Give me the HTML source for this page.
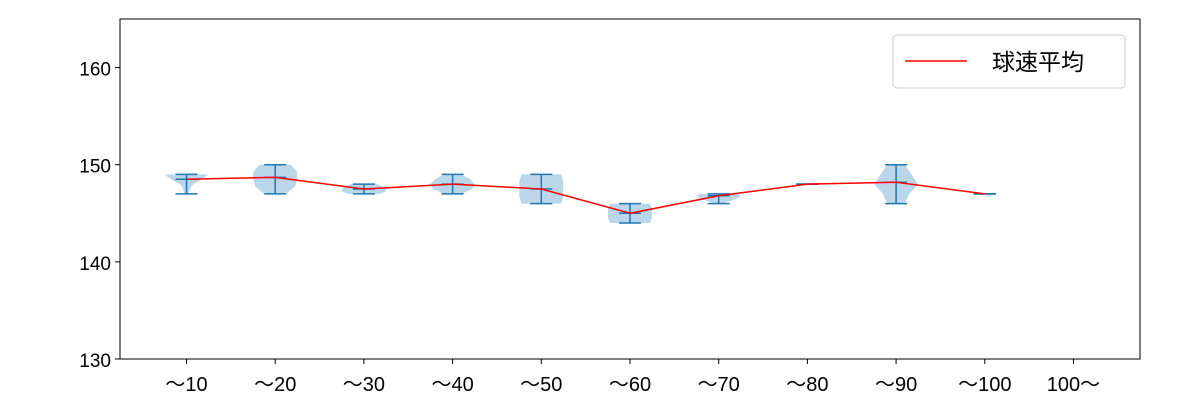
<!DOCTYPE html>
<html><head><meta charset="utf-8"><style>
body{margin:0;background:#fff;}
svg{display:block;font-family:"Liberation Sans","Noto Sans CJK JP",sans-serif;}
</style></head><body>
<svg id="c" width="1200" height="400"></svg>
<script>
const categories=["～10","～20","～30","～40","～50","～60","～70","～80","～90","～100","100～"];
const meanValues=[148.5,148.7,147.5,148,147.5,145,146.8,148,148.2,147,null];
const minValues=[147,147,147,147,146,144,146,148,146,147,null];
const maxValues=[149,150,148,149,149,146,147,148,150,147,null];
// half-width fraction profiles from min (first) to max (last)
const violinShapes=[[0.1,0.15,0.3,0.7,1],[0.5,0.9,1,1,0.7],[0.7,1,1,0.9,0.6],[0.4,0.9,1,0.8,0.4],[0.9,1,1,1,0.9],[0.9,1,1,1,0.9],[0.2,0.5,0.8,1,0.9],[0,0,0,0,0],[0.4,0.6,1,0.7,0.4],[0,0,0,0,0],null];
const yTicks=[130,140,150,160];
const L=120,R=1140,T=19,B=359,yMin=130,yMax=165;
const NS="http://www.w3.org/2000/svg";
const svg=document.getElementById('c');
const X=i=>L+(i+0.75)*(R-L)/11.5;
const Y=v=>B-(v-yMin)/(yMax-yMin)*(B-T);
function mk(t,a,p){const e=document.createElementNS(NS,t);for(const k in a)e.setAttribute(k,a[k]);(p||svg).appendChild(e);return e;}
const maxHW=22;
categories.forEach((c,i)=>{
  const s=violinShapes[i];
  if(s&&maxValues[i]>minValues[i]){
    const n=s.length;let right=[],left=[];
    for(let k=0;k<n;k++){const v=minValues[i]+(maxValues[i]-minValues[i])*k/(n-1);const w=Math.max(s[k]*maxHW,1);right.push([X(i)+w,Y(v)]);left.unshift([X(i)-w,Y(v)]);}
    const pts=right.concat(left).map(p=>p.join(',')).join(' ');
    const vp=mk('polygon',{points:pts,fill:'#1f77b4','fill-opacity':0.3,stroke:'none'});
    
    
  }
  if(meanValues[i]!=null){
    const g=mk('g',{stroke:'#1f77b4','stroke-width':1.5});
    
    
    mk('line',{x1:X(i),x2:X(i),y1:Y(minValues[i]),y2:Y(maxValues[i])},g);
    [minValues[i],maxValues[i],meanValues[i]].forEach(v=>mk('line',{x1:X(i)-11,x2:X(i)+11,y1:Y(v),y2:Y(v)},g));
  }
  const t=mk('text',{x:X(i),y:391,'text-anchor':'middle','font-size':20,fill:'#000'});t.textContent=c;
  
  
  mk('line',{x1:X(i),x2:X(i),y1:B,y2:B+5,stroke:'#000'});
});
yTicks.forEach(v=>{
  mk('line',{x1:L-5,x2:L,y1:Y(v),y2:Y(v),stroke:'#000'});
  const t=mk('text',{x:L-9,y:Y(v)+8,'text-anchor':'end','font-size':19,fill:'#000'});t.textContent=v;
  
  
});
const pts=meanValues.map((v,i)=>v==null?null:X(i)+','+Y(v)).filter(p=>p).join(' ');
const ml=mk('polyline',{points:pts,fill:'none',stroke:'#ff0000','stroke-width':1.5});


const fr=mk('rect',{x:L,y:T,width:R-L,height:B-T,fill:'none',stroke:'#000','stroke-width':1});


const lg=mk('g',{});


mk('rect',{x:893,y:35,width:232,height:53,rx:4,fill:'#fff',stroke:'#ccc'},lg);
mk('line',{x1:905,x2:967,y1:61,y2:61,stroke:'#ff0000','stroke-width':1.5},lg);
const lt=mk('text',{x:992,y:70,'font-size':23,fill:'#000'},lg);lt.textContent='球速平均';


</script>
</body></html>
